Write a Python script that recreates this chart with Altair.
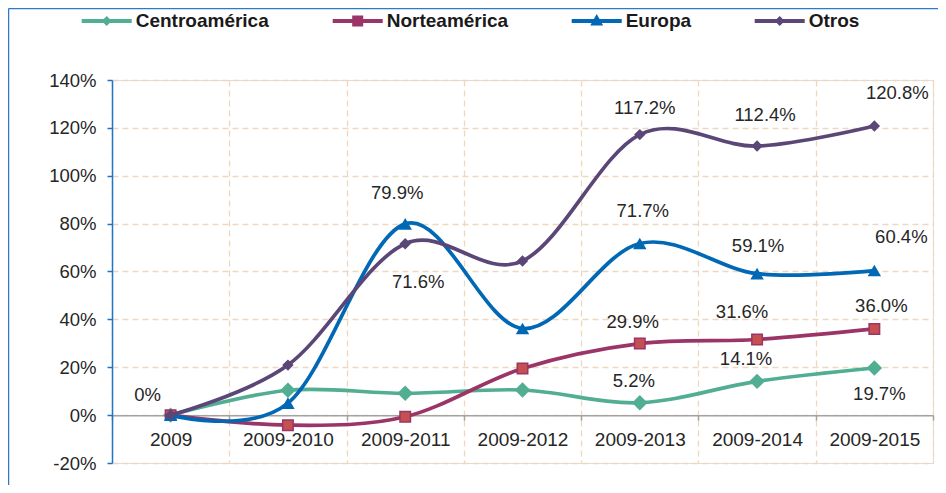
import altair as alt
import pandas as pd

# ---------------- data ----------------
categories = ["2009", "2009-2010", "2009-2011", "2009-2012", "2009-2013", "2009-2014", "2009-2015"]
series = ["Centroamérica", "Norteamérica", "Europa", "Otros"]
centro = [0.0, 10.4, 9.1, 10.5, 5.2, 14.1, 19.7]
norte = [0.0, -4.2, -0.7, 19.5, 29.9, 31.6, 36.0]
europa = [0.0, 5.0, 79.9, 36.2, 71.7, 59.1, 60.4]
otros = [0.0, 20.9, 71.6, 64.4, 117.2, 112.4, 120.8]
y_ticks = [-20, 0, 20, 40, 60, 80, 100, 120, 140]

# which points carry a data label
labeled_points = [
    ("Centroamérica", "2009"),
    ("Europa", "2009-2011"),
    ("Otros", "2009-2011"),
    ("Otros", "2009-2013"),
    ("Otros", "2009-2014"),
    ("Otros", "2009-2015"),
    ("Europa", "2009-2013"),
    ("Europa", "2009-2014"),
    ("Europa", "2009-2015"),
    ("Norteamérica", "2009-2013"),
    ("Norteamérica", "2009-2014"),
    ("Norteamérica", "2009-2015"),
    ("Centroamérica", "2009-2013"),
    ("Centroamérica", "2009-2014"),
    ("Centroamérica", "2009-2015"),
]

# ---------------- style ----------------
label_offsets = [(-23, -20), (-8, -31), (13, 38), (5, -27), (8, -31), (23, -33),
                 (3, -32), (1, -28), (27, -34), (-7, -22), (-15, -27), (7, -23),
                 (-6, -22), (-11, -22), (5, 26)]
line_colors = ["#52AE93", "#9B3467", "#0068B5", "#5B4678"]
marker_styles = [
    dict(shape="diamond", size=240, filled=True, color="#52AE93", strokeWidth=0, opacity=1),
    dict(shape="square", size=110, filled=True, fill="#C4504F", stroke="#9B3467", strokeWidth=1.5, opacity=1),
    dict(shape="triangle-up", size=180, filled=True, color="#0068B5", strokeWidth=0, opacity=1),
    dict(shape="diamond", size=130, filled=True, color="#5B4678", strokeWidth=0, opacity=1),
]
legend_paths = [
    "M-1,-0.08H1V0.08H-1Z M-0.2,0L0,-0.2L0.2,0L0,0.2Z",
    "M-1,-0.08H1V0.08H-1Z M-0.22,-0.22H0.22V0.22H-0.22Z",
    "M-1,-0.08H1V0.08H-1Z M0,-0.28L0.26,0.18L-0.26,0.18Z",
    "M-1,-0.08H1V0.08H-1Z M-0.2,0L0,-0.2L0.2,0L0,0.2Z",
]
FONT = "Liberation Sans"
TEXT = "#262626"
GRID = "#EFD6BE"
W, H = 821, 383

# ---------------- table ----------------
values = {"Centroamérica": centro, "Norteamérica": norte, "Europa": europa, "Otros": otros}
rows = []
for s in series:
    for c, v in zip(categories, values[s]):
        rows.append({"series": s, "category": c, "value": v / 100.0,
                     "label": "0%" if v == 0 else f"{v:.1f}%"})
df = pd.DataFrame(rows)

x_enc = alt.X(
    "category:N",
    scale=alt.Scale(type="band", domain=categories, paddingInner=0, paddingOuter=0),
    axis=alt.Axis(
        title=None, labelAngle=0, tickBand="extent",
        grid=True, gridColor=GRID, gridDash=[6, 4], gridWidth=1.3,
        domainColor="#A3A3A3", domainWidth=1.5, tickColor="#A3A3A3", tickWidth=1.5, tickSize=5,
        offset=-H * 0.2 / 1.6,
        labelFont=FONT, labelFontSize=19, labelColor=TEXT, labelPadding=10,
        labelBaseline="top",
    ),
)
y_enc = alt.Y(
    "value:Q",
    scale=alt.Scale(domain=[-0.2, 1.4], nice=False, zero=False),
    axis=alt.Axis(
        title=None, values=[t / 100 for t in y_ticks],
        labelExpr="round(datum.value * 100) + '%'",
        grid=True, gridColor=GRID, gridDash=[6, 4], gridWidth=1.3,
        domainColor="#1F74C4", domainWidth=1.5, tickColor="#1F74C4", tickWidth=1.5, tickSize=5,
        labelFont=FONT, labelFontSize=18.5, labelColor=TEXT, labelPadding=11,
    ),
)
color_scale = alt.Scale(domain=series, range=line_colors)

layers = []

# legend carrier (invisible points) - first so its legend settings win
leg = alt.Legend(
    orient="none", legendX=-30.3, legendY=-84, direction="horizontal", columns=4,
    title=None, symbolSize=2500, symbolOpacity=1, symbolStrokeWidth=0,
    labelFont=FONT, labelFontWeight="bold", labelFontSize=19, labelColor="#1A1A1A",
    labelOffset=4, columnPadding=63, padding=0,
)
layers.append(alt.Chart(df).mark_point(filled=True, opacity=0).encode(
    x=x_enc, y=y_enc,
    color=alt.Color("series:N", scale=color_scale, legend=leg),
    shape=alt.Shape("series:N", scale=alt.Scale(domain=series, range=legend_paths), legend=leg),
))

# frame of the chart area (decoration)
frame_df = pd.DataFrame({"k": [0]})
layers.append(alt.Chart(frame_df).mark_rule(color="#2A7BC9", strokeWidth=1.5).encode(
    x=alt.value(-103.5), y=alt.value(-71.5), y2=alt.value(H + 40)))
layers.append(alt.Chart(frame_df).mark_rule(color="#2A7BC9", strokeWidth=1.5).encode(
    x=alt.value(-103.5), x2=alt.value(W + 40), y=alt.value(-71.5)))

for i, s in enumerate(series):
    d = df[df.series == s]
    layers.append(alt.Chart(d).mark_line(interpolate="cardinal", strokeWidth=3.7,
                                         color=line_colors[i]).encode(x=x_enc, y=y_enc))
    layers.append(alt.Chart(d).mark_point(**marker_styles[i]).encode(x=x_enc, y=y_enc))

# data labels
for (s, c), (dx, dy) in zip(labeled_points, label_offsets):
    d = df[(df.series == s) & (df.category == c)]
    layers.append(alt.Chart(d).mark_text(
        dx=dx, dy=dy, align="center", baseline="middle",
        font=FONT, fontSize=18.5, color=TEXT,
    ).encode(x=x_enc, y=y_enc, text="label:N"))

chart = alt.layer(*layers).properties(
    width=W, height=H,
    autosize=alt.AutoSizeParams(type="none"),
    padding={"left": 104, "top": 72, "right": 5, "bottom": 22},
).configure_view(stroke=None).configure(background="white")

chart.save("out.html", embed_options={"renderer": "svg", "actions": False})
